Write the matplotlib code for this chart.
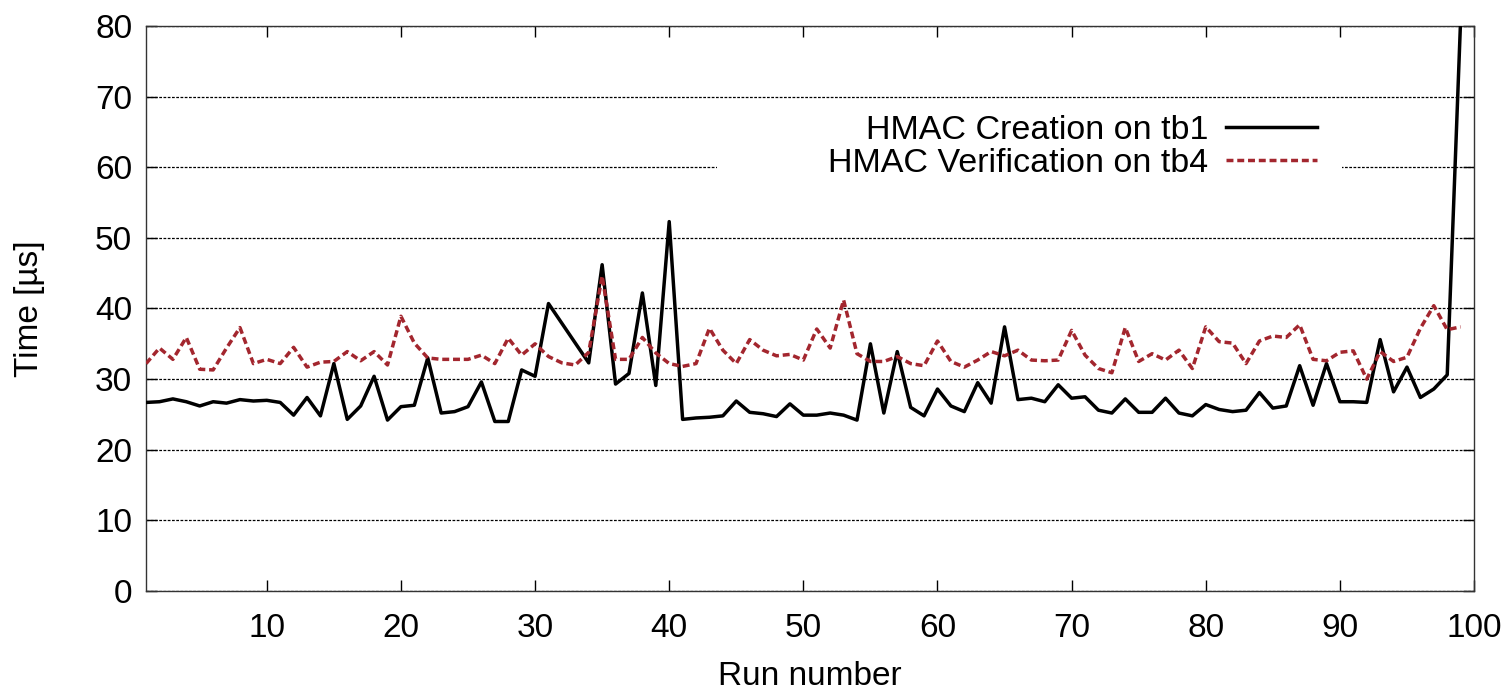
#!/usr/bin/env python3
"""
plot.py - HMAC creation / verification time per run (gnuplot-style line chart)
"""

import matplotlib
matplotlib.use("Agg")
import matplotlib.pyplot as plt
from matplotlib.patches import Rectangle

plt.rcParams["font.family"] = ["Liberation Sans", "DejaVu Sans"]

# Run numbers 1..99
RUNS = list(range(1, 100))

# HMAC creation on tb1 (us)
CREATION_TB1 = [
    26.7, 26.8, 27.2, 26.8, 26.2, 26.8, 26.6, 27.1, 26.9, 27.0,
    26.7, 24.9, 27.4, 24.8, 32.2, 24.3, 26.2, 30.4, 24.2, 26.1,
    26.3, 33.0, 25.2, 25.4, 26.1, 29.6, 24.0, 24.0, 31.3, 30.4,
    40.7, 37.9, 35.1, 32.3, 46.2, 29.3, 30.8, 42.2, 29.1, 52.3,
    24.3, 24.5, 24.6, 24.8, 26.9, 25.3, 25.1, 24.7, 26.5, 24.9,
    24.9, 25.2, 24.9, 24.2, 35.0, 25.2, 33.9, 26.0, 24.8, 28.6,
    26.2, 25.4, 29.5, 26.6, 37.4, 27.1, 27.3, 26.8, 29.2, 27.3,
    27.5, 25.6, 25.2, 27.2, 25.3, 25.3, 27.3, 25.2, 24.8, 26.4,
    25.7, 25.4, 25.6, 28.1, 25.9, 26.2, 31.9, 26.3, 32.2, 26.8,
    26.8, 26.7, 35.6, 28.2, 31.7, 27.4, 28.6, 30.6, 81.0,
]

# HMAC verification on tb4 (us)
VERIFICATION_TB4 = [
    32.2, 34.4, 32.8, 35.9, 31.4, 31.3, 34.4, 37.3, 32.2, 32.8,
    32.2, 34.5, 31.7, 32.4, 32.5, 33.9, 32.6, 33.9, 32.0, 38.9,
    35.1, 33.0, 32.8, 32.8, 32.8, 33.4, 32.2, 35.8, 33.4, 35.0,
    33.2, 32.3, 32.0, 33.8, 44.6, 32.8, 32.8, 35.9, 33.7, 32.2,
    31.8, 32.2, 37.2, 34.1, 32.2, 35.6, 34.1, 33.3, 33.5, 32.7,
    37.1, 34.4, 41.2, 33.6, 32.5, 32.5, 33.2, 32.2, 31.9, 35.4,
    32.5, 31.7, 32.7, 33.9, 33.3, 34.1, 32.7, 32.6, 32.7, 36.9,
    33.4, 31.5, 30.9, 37.3, 32.5, 33.6, 32.7, 34.1, 31.5, 37.4,
    35.3, 35.1, 32.2, 35.4, 36.1, 35.9, 37.7, 32.8, 32.6, 33.8,
    34.0, 30.0, 33.9, 32.5, 33.1, 37.2, 40.4, 37.0, 37.4,
]

X_TICKS = list(range(10, 101, 10))
Y_TICKS = list(range(0, 81, 10))

FONT_SIZE = 24
RED = "#a3262e"


def main():
    fig = plt.figure(figsize=(15.12, 6.91), dpi=100)
    ax = fig.add_axes([0.0966, 0.1447, 0.8783, 0.8177])

    ax.plot(RUNS, CREATION_TB1, color="black", linewidth=2.5,
            label="HMAC Creation on tb1", zorder=3)
    ax.plot(RUNS, VERIFICATION_TB4, color=RED, linewidth=2.5,
            dashes=(2.0, 1.1), label="HMAC Verification on tb4", zorder=3)

    ax.set_xlim(1, 100)
    ax.set_ylim(0, 80)
    ax.set_xticks(X_TICKS)
    ax.set_yticks(Y_TICKS)

    # gnuplot look: mirrored inward ticks, dotted horizontal grid
    ax.tick_params(direction="in", top=True, right=True, length=8,
                   width=1.0, labelsize=FONT_SIZE, pad=10)
    ax.tick_params(axis="x", pad=16)
    ax.set_axisbelow(True)
    ax.yaxis.grid(True, color="black", linewidth=0.9, dashes=(2.2, 1.2))
    for spine in ax.spines.values():
        spine.set_linewidth(1.0)
        spine.set_color("#333333")

    ax.set_xlabel("Run number", fontsize=FONT_SIZE, labelpad=12)
    ax.set_ylabel("Time [µs]", fontsize=FONT_SIZE, labelpad=36)

    # key area blanks out the grid behind it
    ax.add_patch(Rectangle((0.4296, 0.72), 0.4713, 0.12, transform=ax.transAxes,
                           facecolor="white", edgecolor="none", zorder=1))

    ax.legend(loc="upper right", bbox_to_anchor=(0.9, 0.884), frameon=False,
              markerfirst=False, fontsize=24.5, handlelength=2.7,
              handletextpad=0.5, labelspacing=0.05, borderpad=0.2)

    fig.savefig("out.png", dpi=100)
    plt.close(fig)


if __name__ == "__main__":
    main()
